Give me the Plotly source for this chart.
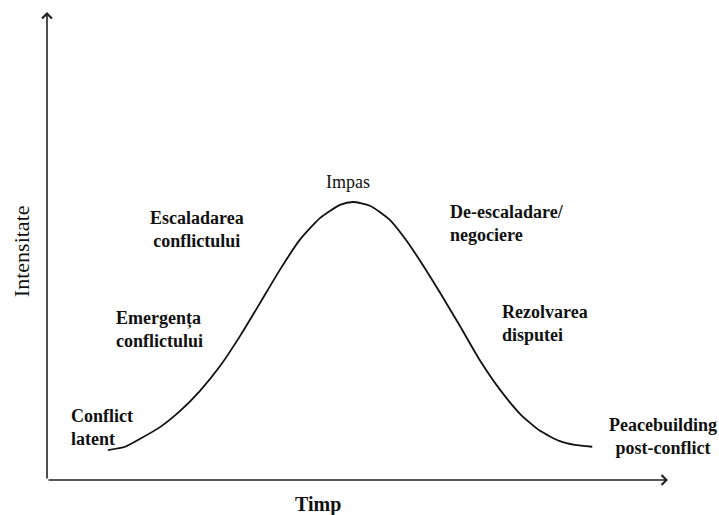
import plotly.graph_objects as go

# Curve (time 0-100, intensity 0-100)
time_vals = [9.8, 12.6, 15.0, 18.2, 21.4, 24.6, 27.9, 31.1, 34.3, 37.5, 40.7, 44.0, 47.2, 49.3,
             52.0, 55.2, 57.7, 60.1, 63.3, 66.5, 69.7, 73.0, 76.2, 79.4, 82.6, 85.0, 87.8]
intensity_vals = [6.4, 7.1, 8.8, 11.3, 14.7, 19.0, 24.4, 30.8, 37.8, 44.9, 51.3, 56.0, 58.8, 59.4,
                  58.6, 55.6, 51.5, 46.8, 40.0, 32.9, 25.6, 19.2, 14.1, 10.5, 8.3, 7.5, 7.1]

stage_labels = ["Conflict<br>latent", "Emergența<br>conflictului", "Escaladarea<br>conflictului",
                "Impas", "De-escaladare/<br>negociere", "Rezolvarea<br>disputei",
                "Peacebuilding<br>post-conflict"]
x_title = "Timp"
y_title = "Intensitate"

# label placement (layout only)
label_x = [3.5, 10.8, 24.2, 48.5, 64.6, 72.9, 99.2]
label_y = [11.3, 32.1, 53.6, 63.7, 54.9, 33.5, 9.4]
label_anchor = ["left", "left", "center", "center", "left", "left", "center"]
label_bold = [True, True, True, False, True, True, True]

FONT = "Liberation Serif"

fig = go.Figure()
fig.add_trace(go.Scatter(x=time_vals, y=intensity_vals, mode="lines",
                         line=dict(color="#111111", width=1.8, shape="spline", smoothing=0.6),
                         hoverinfo="skip", showlegend=False))

annotations = []
for txt, lx, ly, anc, b in zip(stage_labels, label_x, label_y, label_anchor, label_bold):
    annotations.append(dict(x=lx, y=ly, xref="x", yref="y", text=txt, showarrow=False,
                            xanchor=anc, yanchor="middle", align=anc,
                            font=dict(family=FONT, size=18, color="#111111",
                                      weight="bold" if b else "normal")))
# axes with arrows
annotations.append(dict(x=100, y=0, ax=0, ay=0, xref="x", yref="y", axref="x", ayref="y",
                        text="", showarrow=True, arrowhead=4, arrowsize=1.2, arrowwidth=1.6,
                        arrowcolor="#222222"))
annotations.append(dict(x=0, y=100, ax=0, ay=0, xref="x", yref="y", axref="x", ayref="y",
                        text="", showarrow=True, arrowhead=4, arrowsize=1.2, arrowwidth=1.6,
                        arrowcolor="#222222"))
annotations.append(dict(x=0.436, y=-0.0513, xref="paper", yref="paper", text=x_title,
                        showarrow=False, xanchor="center", yanchor="middle",
                        font=dict(family=FONT, size=20, color="#111111", weight="bold")))
annotations.append(dict(x=-0.0419, y=0.489, xref="paper", yref="paper", text=y_title,
                        showarrow=False, textangle=-90, xanchor="center", yanchor="middle",
                        font=dict(family=FONT, size=22, color="#111111")))

fig.update_layout(
    width=719, height=515,
    margin=dict(l=47, r=51, t=12, b=35),
    paper_bgcolor="white", plot_bgcolor="white",
    xaxis=dict(range=[0, 100], visible=False, fixedrange=True),
    yaxis=dict(range=[0, 100], visible=False, fixedrange=True),
    annotations=annotations,
    showlegend=False,
)

# remove the browser's default 8px body margin so the figure fills the window exactly
fig.write_html("out.html", config={"displayModeBar": False},
               post_script="document.body.style.margin='0px';"
                           "document.documentElement.style.overflow='hidden';")
